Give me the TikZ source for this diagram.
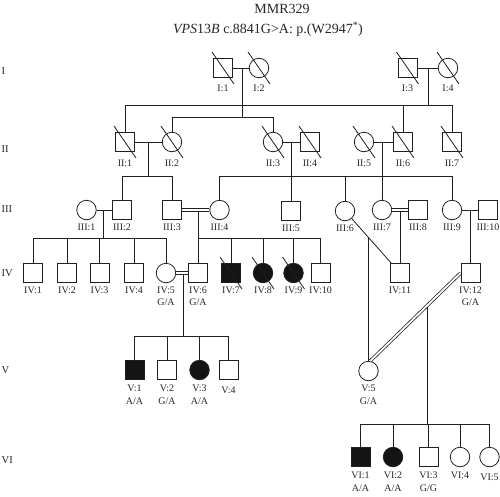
\documentclass[tikz,border=0pt]{standalone}
\usepackage{fontspec}
\setmainfont{Liberation Serif}
\usetikzlibrary{calc}
\tikzset{
  ln/.style={line width=0.8pt, draw=black!88},
  sq/.style={rectangle, draw=black!88, line width=0.8pt, minimum size=19pt, inner sep=0pt},
  ci/.style={circle, draw=black!88, line width=0.8pt, minimum size=19.5pt, inner sep=0pt},
  aff/.style={fill=black!92},
  lbl/.style={font=\fontsize{10}{12}\selectfont, inner sep=0pt, text=black!85},
  glbl/.style={font=\fontsize{10.5}{12}\selectfont, inner sep=0pt, anchor=west, text=black!85},
  ttl/.style={font=\fontsize{14}{16}\selectfont, inner sep=0pt, text=black!85},
  dbl/.style={draw=black!88, line width=0.75pt, double=white, double distance=1.8pt},
}
\newcommand{\pedperson}[6]{%
  \node[#1] (#2) at (#3,#4) {};
  \node[lbl] (#2l) at (#3,#4+#6) {#5};}
\newcommand{\pedslash}[1]{\draw[ln] ($(#1)+(-11,-16)$) -- ($(#1)+(11,16)$);}
\newcommand{\pedgeno}[4]{\node[lbl] (#1g) at (#2,#3+30) {#4};}
\begin{document}
\begin{tikzpicture}[x=1pt,y=-1pt]
\useasboundingbox (0,0) rectangle (500,496);
% titles
\node[ttl] (t1) at (282,9) {MMR329};
\node[ttl] (t2) at (268,29) {\textit{VPS}13\textit{B} c.8841G>A: p.(W2947\textsuperscript{*})};
% generation labels
\node[glbl] (gI) at (1.5,71) {I};
\node[glbl] (gII) at (1.5,149) {II};
\node[glbl] (gIII) at (1.5,209) {III};
\node[glbl] (gIV) at (1.5,273) {IV};
\node[glbl] (gV) at (1.5,370) {V};
\node[glbl] (gVI) at (1.5,460) {VI};

% ---------- coordinates of junctions
\coordinate (m1) at (242,68);
\coordinate (s2) at (242,117);
\coordinate (m2) at (428,68);
\coordinate (s1r) at (428,105);
\coordinate (s1a) at (125,105);
\coordinate (s1b) at (452,105);
\coordinate (s2a) at (172,117);
\coordinate (s2b) at (273,117);
\coordinate (m3) at (148,142);
\coordinate (s3) at (148,176);
\coordinate (s3a) at (122,176);
\coordinate (s3b) at (172,176);
\coordinate (m4) at (291,142);
\coordinate (m5) at (382,142);
\coordinate (s4a) at (219.5,176);
\coordinate (s4b) at (452,176);
\coordinate (m6) at (103,210);
\coordinate (s6) at (103,238);
\coordinate (s6a) at (33,238);
\coordinate (s6b) at (166,238);
\coordinate (m7) at (198,210);
\coordinate (s7b) at (320.5,238);
\coordinate (m8) at (400,210);
\coordinate (m9) at (470.5,210);
\coordinate (m12) at (183,273);
\coordinate (s12) at (183,336);
\coordinate (s12a) at (134.5,336);
\coordinate (s12b) at (229,336);
\coordinate (s13a) at (360.5,424);
\coordinate (s13b) at (489.5,424);

% ---------- Generation I
\pedperson{sq}{I1}{223}{68}{I:1}{20}
\pedperson{ci}{I2}{259}{68}{I:2}{20}
\pedperson{sq}{I3}{407.5}{68}{I:3}{20}
\pedperson{ci}{I4}{448}{68}{I:4}{20}
% ---------- Generation II
\pedperson{sq}{II1}{125}{142}{II:1}{21}
\pedperson{ci}{II2}{172}{142}{II:2}{21}
\pedperson{ci}{II3}{273}{142}{II:3}{21}
\pedperson{sq}{II4}{310}{142}{II:4}{21}
\pedperson{ci}{II5}{364}{142}{II:5}{21}
\pedperson{sq}{II6}{403}{142}{II:6}{21}
\pedperson{sq}{II7}{452}{142}{II:7}{21}
% ---------- Generation III
\pedperson{ci}{III1}{86.5}{210}{III:1}{17.5}
\pedperson{sq}{III2}{122}{210}{III:2}{17.5}
\pedperson{sq}{III3}{172}{210}{III:3}{17.5}
\pedperson{ci}{III4}{219.5}{210}{III:4}{17.5}
\pedperson{sq}{III5}{291}{211}{III:5}{17.5}
\pedperson{ci}{III6}{345}{211}{III:6}{17.5}
\pedperson{ci}{III7}{382}{210}{III:7}{17.5}
\pedperson{sq}{III8}{418}{210}{III:8}{17.5}
\pedperson{ci}{III9}{452}{210}{III:9}{17.5}
\pedperson{sq}{III10}{488}{210}{III:10}{17.5}
% ---------- Generation IV
\pedperson{sq}{IV1}{33}{273}{IV:1}{17.5}
\pedperson{sq}{IV2}{67}{273}{IV:2}{17.5}
\pedperson{sq}{IV3}{99.5}{273}{IV:3}{17.5}
\pedperson{sq}{IV4}{134}{273}{IV:4}{17.5}
\pedperson{ci}{IV5}{166}{273}{IV:5}{17.5}
\pedperson{sq}{IV6}{198}{273}{IV:6}{17.5}
\pedperson{sq,aff}{IV7}{231}{273}{IV:7}{17.5}
\pedperson{ci,aff}{IV8}{263}{273}{IV:8}{17.5}
\pedperson{ci,aff}{IV9}{293.5}{273}{IV:9}{17.5}
\pedperson{sq}{IV10}{320.5}{273}{IV:10}{17.5}
\pedperson{sq}{IV11}{400}{273}{IV:11}{17.5}
\pedperson{sq}{IV12}{470.5}{273}{IV:12}{17.5}
\pedgeno{IV5}{166}{272}{G/A}
\pedgeno{IV6}{198}{272}{G/A}
\pedgeno{IV12}{470.5}{272}{G/A}
% ---------- Generation V
\pedperson{sq,aff}{V1}{134.5}{370}{V:1}{18}
\pedperson{sq}{V2}{167}{370}{V:2}{18}
\pedperson{ci,aff}{V3}{199.5}{370}{V:3}{18}
\pedperson{sq}{V4}{228.5}{370}{V:4}{20.5}
\pedperson{ci}{V5}{368.5}{371}{V:5}{17}
\pedgeno{V1}{134.5}{371}{A/A}
\pedgeno{V2}{167}{371}{G/A}
\pedgeno{V3}{199.5}{371}{A/A}
\pedgeno{V5}{368.5}{371}{G/A}
% ---------- Generation VI
\pedperson{sq,aff}{VI1}{360.5}{457}{VI:1}{18}
\pedperson{ci,aff}{VI2}{393}{457}{VI:2}{18}
\pedperson{sq}{VI3}{428.5}{457}{VI:3}{18}
\pedperson{ci}{VI4}{460}{457}{VI:4}{18}
\pedperson{ci}{VI5}{489.5}{457}{VI:5}{20}
\pedgeno{VI1}{360.5}{458}{A/A}
\pedgeno{VI2}{393}{458}{A/A}
\pedgeno{VI3}{428.5}{458}{G/G}

% ---------- deceased slashes
\foreach \p in {I1,I2,I3,I4,II1,II2,II3,II4,II5,II6,II7,IV7,IV8,IV9}{\pedslash{\p}}

% ---------- connectors
% gen I matings and sibships
\draw[ln] (I1) -- (I2);
\draw[ln] (I3) -- (I4);
\draw[ln] (m1) -- (s2);
\draw[ln] (m2) -- (s1r);
\draw[ln] (s1a) -- (s1b);
\draw[ln] (s2a) -- (s2b);
\draw[ln] (II1) -- (s1a);
\draw[ln] (II6) -- (II6 |- s1a);
\draw[ln] (II7) -- (s1b);
\draw[ln] (II2) -- (s2a);
\draw[ln] (II3) -- (s2b);
% gen II matings
\draw[ln] (II1) -- (II2);
\draw[ln] (m3) -- (s3);
\draw[ln] (s3a) -- (s3b);
\draw[ln] (III2) -- (s3a);
\draw[ln] (III3) -- (s3b);
\draw[ln] (II3) -- (II4);
\draw[ln] (m4) -- (III5);
\draw[ln] (II5) -- (II6);
\draw[ln] (m5) -- (III7);
\draw[ln] (s4a) -- (s4b);
\draw[ln] (III4) -- (s4a);
\draw[ln] (III6) -- (III6 |- s4a);
\draw[ln] (III9) -- (s4b);
% gen III matings
\draw[ln] (III1) -- (III2);
\draw[ln] (m6) -- (s6);
\draw[ln] (s6a) -- (s6b);
\foreach \c in {IV1,IV2,IV3,IV4,IV5}{\draw[ln] (\c) -- (\c |- s6);}
\draw[ln] (m7) -- (IV6);
\draw[ln] (m7 |- s6) -- (s7b);
\foreach \c in {IV7,IV8,IV9,IV10}{\draw[ln] (\c) -- (\c |- s7b);}
\draw[ln] (m8) -- (IV11);
\draw[ln] (m9) -- (IV12);
\draw[dbl] (III3) -- (III4);
\draw[dbl] (III7) -- (III8);
\draw[ln] (III9) -- (III10);
% gen IV matings
\draw[ln] (m12) -- (s12);
\draw[ln] (s12a) -- (s12b);
\foreach \c in {V1,V2,V3,V4}{\draw[ln] (\c) -- (\c |- s12);}
\draw[dbl] (IV5) -- (IV6);
\draw[ln] (III6) -- (IV11);
\coordinate (m10) at ($(III6)!0.427!(IV11)$);
\draw[ln] (m10) -- (m10 |- V5.north);
\coordinate (m11) at ($(IV12.west)!0.367!(V5.80)$);
\draw[ln] (m11) -- (m11 |- s13a);
\draw[dbl] (IV12.west) -- (V5.80);
% gen VI sibship
\draw[ln] (s13a) -- (s13b);
\foreach \c in {VI1,VI2,VI3,VI4,VI5}{\draw[ln] (\c) -- (\c |- s13a);}
\end{tikzpicture}
\end{document}
